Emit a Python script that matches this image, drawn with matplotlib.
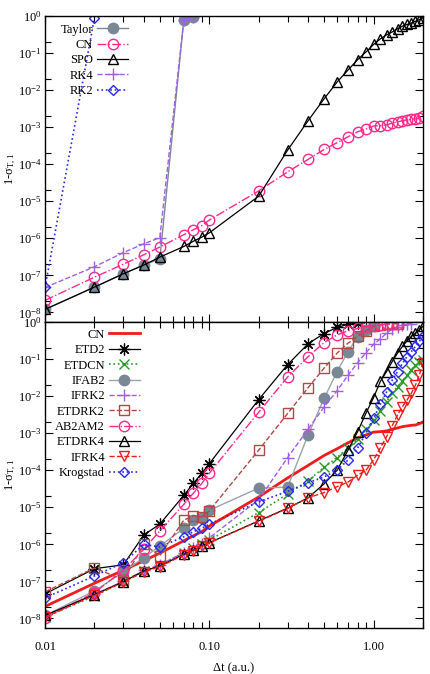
import matplotlib
matplotlib.use('Agg')
import matplotlib.pyplot as plt
import matplotlib.ticker as mticker
import numpy as np

plt.rcParams['font.family'] = ['Liberation Serif', 'DejaVu Serif']
plt.rcParams['mathtext.fontset'] = 'custom'
plt.rcParams['mathtext.rm'] = 'Liberation Serif'
plt.rcParams['mathtext.it'] = 'Liberation Serif:italic'
plt.rcParams['mathtext.default'] = 'regular'
plt.rcParams['font.size'] = 9

# time steps (a.u.)
DT = [0.01, 0.02, 0.03, 0.04, 0.05, 0.07, 0.08, 0.09, 0.1,
      0.2, 0.3, 0.4, 0.5, 0.6, 0.7, 0.8, 0.9, 1.0,
      1.1, 1.2, 1.3, 1.4, 1.5, 1.6, 1.7, 1.8, 1.9, 2.0]

# ---- top panel ----
taylor = [1.2e-8, 4.8e-8, 1.1e-7, 1.9e-7, 2.8e-7, 0.8, 0.95]
cn = [2.1e-8, 8.9e-8, 2.0e-7, 3.6e-7, 5.8e-7, 1.25e-6, 1.7e-6, 2.2e-6, 3.1e-6,
      1.9e-5, 6.2e-5, 1.35e-4, 2.5e-4, 3.8e-4, 5.5e-4, 7.5e-4, 8.9e-4, 1.07e-3,
      1.1e-3, 1.15e-3, 1.28e-3, 1.38e-3, 1.5e-3, 1.57e-3, 1.63e-3, 1.66e-3, 1.8e-3, 2.0e-3]
spo = [1.2e-8, 4.8e-8, 1.1e-7, 1.9e-7, 3.1e-7, 6.0e-7, 8.3e-7, 1.07e-6, 1.4e-6,
       1.37e-5, 2.4e-4, 1.5e-3, 5.8e-3, 1.65e-2, 3.5e-2, 6.6e-2, 0.107, 0.17,
       0.24, 0.31, 0.37, 0.45, 0.53, 0.59, 0.65, 0.72, 0.80, 0.89]
rk4 = [4.7e-8, 1.7e-7, 4.1e-7, 7.1e-7, 1.04e-6, 0.78, 0.92]
rk2 = [4.7e-8, 0.9]

# ---- bottom panel ----
etd2 = [4.6e-8, 2.2e-7, 2.8e-7, 1.8e-6, 3.5e-6, 2.1e-5, 4.4e-5, 8.3e-5, 1.5e-4,
        8.1e-3, 7.1e-2, 0.26, 0.49, 0.72, 0.87, 0.94]
etdcn = [1.1e-8, 4.0e-8, 1.0e-7, 1.9e-7, 2.7e-7, 6.0e-7, 8.0e-7, 1.0e-6, 1.3e-6,
         7.2e-6, 2.3e-5, 5.2e-5, 1.2e-4, 2.2e-4, 4.0e-4, 7.0e-4, 1.3e-3, 2.2e-3,
         4.0e-3, 7.1e-3, 1.2e-2, 1.8e-2, 2.5e-2, 3.7e-2, 5.1e-2, 6.9e-2, 8.6e-2, 9.5e-2]
ifab2 = [1.2e-8, 5.5e-8, 1.8e-7, 4.4e-7, 9.0e-7, 2.7e-6, 4.5e-6, 5.0e-6, 8.3e-6,
         3.3e-5, 3.5e-5, 9.2e-4, 8.7e-3, 4.6e-2, 0.16, 0.40, 0.62, 0.85]
ifrk2 = [1.2e-8, 4.5e-8, 1.0e-7, 2.0e-7, 2.8e-7, 6.0e-7, 8.0e-7, 1.0e-6, 1.5e-6,
         1.6e-5, 2.2e-4, 1.3e-3, 5.1e-3, 1.4e-2, 3.7e-2, 8.0e-2, 0.15, 0.25,
         0.35, 0.5, 0.65, 0.75, 0.82, 0.87, 0.9]
etdrk2 = [5.2e-8, 2.3e-7, 1.1e-7, 1.0e-6, 4.9e-7, 4.5e-6, 5.9e-6, 5.5e-6, 8.0e-6,
          3.5e-4, 3.4e-3, 1.7e-2, 5.7e-2, 0.145, 0.27, 0.41, 0.58, 0.76,
          0.84, 0.88, 0.9, 0.9]
ab2am2 = [1.0e-8, 5.0e-8, 2.0e-7, 7.4e-7, 2.3e-6, 1.2e-5, 2.4e-5, 4.4e-5, 8.3e-5,
          3.7e-3, 3.3e-2, 0.117, 0.28, 0.45, 0.58, 0.67, 0.74, 0.80,
          0.84, 0.87, 0.88, 0.9]
etdrk4 = [1.2e-8, 4.4e-8, 9.8e-8, 1.9e-7, 2.6e-7, 5.4e-7, 6.9e-7, 9.1e-7, 1.1e-6,
          4.3e-6, 9.5e-6, 1.8e-5, 4.3e-5, 1.0e-4, 3.5e-4, 1.1e-3, 3.5e-3, 9.1e-3,
          2.5e-2, 4.6e-2, 8.6e-2, 0.145, 0.22, 0.31, 0.41, 0.50, 0.62, 0.76]
ifrk4 = [1.1e-8, 4.2e-8, 9.5e-8, 1.8e-7, 2.5e-7, 5.2e-7, 6.7e-7, 8.8e-7, 1.1e-6,
         4.2e-6, 9.3e-6, 1.8e-5, 2.5e-5, 3.6e-5, 4.8e-5, 7.3e-5, 1.0e-4, 1.9e-4,
         4.0e-4, 8.0e-4, 1.6e-3, 3.1e-3, 5.2e-3, 7.9e-3, 1.2e-2, 2.0e-2, 3.7e-2, 7.7e-2]
krogstad = [3.6e-8, 1.4e-7, 3.2e-7, 1.0e-6, 8.5e-7, 1.6e-6, 2.2e-6, 2.7e-6, 3.5e-6,
            1.4e-5, 2.7e-5, 4.6e-5, 6.6e-5, 1.0e-4, 1.9e-4, 4.0e-4, 1.0e-3, 2.5e-3,
            6.0e-3, 1.3e-2, 2.7e-2, 4.6e-2, 7.7e-2, 0.117, 0.16, 0.22, 0.30, 0.41]

PINK = '#ff2a8a'
GRAY = '#7a8896'
PURPLE = '#a060e0'
BLUE = '#2a2ae8'
GREEN = '#2a9a2a'
BROWN = '#b04848'
RED = '#ee1c1c'


def dt_for(vals):
    return DT[:len(vals)]


def style_axis(ax):
    ax.set_xscale('log')
    ax.set_yscale('log')
    ax.set_xlim(0.01, 2.0)
    ax.set_ylim(5.5e-9, 1.0)
    ax.xaxis.set_major_locator(mticker.FixedLocator([0.01, 0.1, 1.0]))
    ax.xaxis.set_minor_locator(mticker.LogLocator(base=10, subs=np.arange(2, 10)))
    ax.yaxis.set_major_locator(mticker.FixedLocator([10.0 ** k for k in range(-8, 1)]))
    ax.yaxis.set_minor_locator(mticker.LogLocator(base=10, subs=(2.0,), numticks=20))
    ax.yaxis.set_minor_formatter(mticker.NullFormatter())
    ax.xaxis.set_minor_formatter(mticker.NullFormatter())
    ax.yaxis.set_major_formatter(mticker.FuncFormatter(
        lambda v, p: r'$10^{%d}$' % int(round(np.log10(v)))))
    ax.tick_params(which='both', direction='in', top=True, right=True, labelsize=9)
    ax.tick_params(axis='y', pad=2.5)
    ax.tick_params(which='major', length=6, width=0.8)
    ax.tick_params(which='minor', length=4, width=0.8)
    for s in ax.spines.values():
        s.set_linewidth(1.0)
    ax.set_ylabel('1-σ$_{T,1}$', fontsize=9)
    ax.yaxis.set_label_coords(-0.072, 0.5)


fig = plt.figure(figsize=(4.30, 6.74), dpi=100)
ax1 = fig.add_axes([0.1047, 0.5223, 0.879, 0.454])
ax2 = fig.add_axes([0.1047, 0.0682, 0.879, 0.454])

ms = 7.5
legkw = dict(loc='upper right', frameon=False, markerfirst=False, fontsize=9,
             handlelength=2.5, handletextpad=0.3, labelspacing=0.27, borderpad=0,
             borderaxespad=0)

# top panel
ax1.plot(dt_for(taylor), taylor, '-', color=GRAY, lw=1.0, marker='o', ms=ms,
         mfc=GRAY, mec=GRAY, label='Taylor')
ax1.plot(dt_for(cn), cn, '-.', color=PINK, lw=1.0, marker='o', ms=ms,
         mfc='none', mec=PINK, label='CN')
ax1.plot(dt_for(spo), spo, '-', color='black', lw=0.9, marker='^', ms=ms,
         mfc='none', mec='black', label='SPO')
ax1.plot(dt_for(rk4), rk4, '--', color=PURPLE, lw=1.0, marker='+', ms=ms + 1,
         mew=1.0, label='RK4')
ax1.plot(dt_for(rk2), rk2, ':', color=BLUE, lw=1.2, marker='D', ms=ms - 2,
         mfc='none', mec=BLUE, label='RK2')
ax1.legend(bbox_to_anchor=(0.22, 0.975), **legkw)

# bottom panel
ax2.plot(DT, cn, '-', color=RED, lw=2.0, label='CN')
ax2.plot(dt_for(etd2), etd2, '-', color='black', lw=0.9, marker=(8, 2, 0), ms=ms + 1,
         mew=0.9, label='ETD2')
ax2.plot(dt_for(etdcn), etdcn, ':', color=GREEN, lw=1.2, marker='x', ms=ms,
         mew=1.0, label='ETDCN')
ax2.plot(dt_for(ifab2), ifab2, '-', color='#9aa4ae', lw=1.0, marker='o', ms=ms,
         mfc=GRAY, mec=GRAY, label='IFAB2')
ax2.plot(dt_for(ifrk2), ifrk2, '--', color=PURPLE, lw=1.0, marker='+', ms=ms + 1,
         mew=1.0, label='IFRK2')
ax2.plot(dt_for(etdrk2), etdrk2, '--', color=BROWN, lw=1.0, marker='s', ms=ms - 1,
         mfc='none', mec=BROWN, label='ETDRK2')
ax2.plot(dt_for(ab2am2), ab2am2, '-.', color=PINK, lw=1.0, marker='o', ms=ms,
         mfc='none', mec=PINK, label='AB2AM2')
ax2.plot(dt_for(etdrk4), etdrk4, '-', color='black', lw=0.9, marker='^', ms=ms,
         mfc='none', mec='black', label='ETDRK4')
ax2.plot(dt_for(ifrk4), ifrk4, '--', color=RED, lw=1.0, marker='v', ms=ms,
         mfc='none', mec=RED, label='IFRK4')
ax2.plot(dt_for(krogstad), krogstad, ':', color=BLUE, lw=1.2, marker='D', ms=ms - 2,
         mfc='none', mec=BLUE, label='Krogstad')
ax2.legend(bbox_to_anchor=(0.251, 0.978), **legkw)

for ax in (ax1, ax2):
    style_axis(ax)
ax1.tick_params(labelbottom=False)
ax2.xaxis.set_major_formatter(mticker.FuncFormatter(lambda v, p: '%.2f' % v))
ax2.tick_params(axis='x', pad=9)
ax2.set_xlabel('Δt (a.u.)', fontsize=9)
ax2.xaxis.set_label_coords(0.5, -0.113)

fig.savefig('out.png', dpi=100)
